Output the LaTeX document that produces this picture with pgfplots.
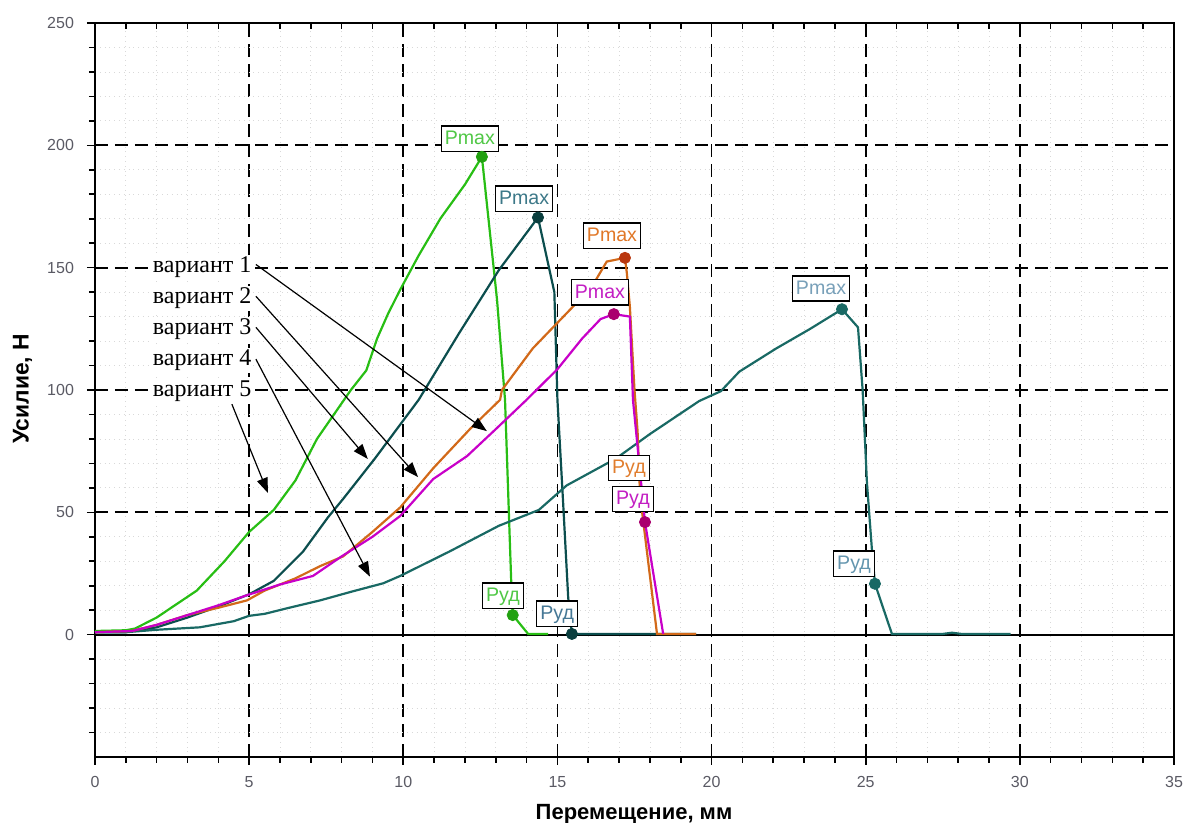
\documentclass[border=0pt]{standalone}
\usepackage{pgfplots}
\pgfplotsset{compat=1.18}
\usepackage{fontspec}
\setmainfont{Liberation Serif}
\newfontfamily\arial{Liberation Sans}
\usetikzlibrary{arrows.meta}
\definecolor{cgreen}{RGB}{40,190,20}
\definecolor{cteal}{RGB}{12,78,78}
\definecolor{cteal2}{RGB}{25,105,100}
\definecolor{corange}{RGB}{210,105,25}
\definecolor{cmag}{RGB}{200,0,200}
\definecolor{tickgray}{RGB}{90,90,100}
\begin{document}
\begin{tikzpicture}
\useasboundingbox (-47.5pt,-33pt) rectangle (544pt,378.5pt);
\tikzset{lbl/.style={draw=black, line width=0.7pt, fill=white, font=\arial\fontsize{9.8}{11}\selectfont, inner xsep=1.8pt, inner ysep=2pt, text height=7.2pt, text depth=1.4pt},
 var/.style={fill=white, inner sep=1pt, anchor=west, font=\fontsize{12}{14}\selectfont},
 arr/.style={line width=0.6pt, -{Triangle[length=7.5pt,width=5.5pt]}}}
\begin{axis}[at={(0,0)}, anchor=south west, scale only axis,
  width=539.5pt, height=367pt,
  xmin=0, xmax=35, ymin=-50, ymax=250,
  xtick={0,5,...,35}, ytick={0,50,...,250},
  minor xtick={1,2,3,4,6,7,8,9,11,12,13,14,16,17,18,19,21,22,23,24,26,27,28,29,31,32,33,34},
  minor ytick={-40,-30,-20,-10,10,20,30,40,60,70,80,90,110,120,130,140,160,170,180,190,210,220,230,240},
  grid=both,
  major grid style={black, line width=0.9pt, dash pattern=on 6.5pt off 3.5pt},
  minor grid style={gray!30, dotted, line width=0.4pt},
  axis line style={line width=1pt},
  tick align=outside, xtick pos=bottom, ytick pos=left,
  major tick length=4pt, minor tick length=3pt,
  tick style={black, line width=0.8pt},
  /pgf/number format/assume math mode=true,
  ticklabel style={font=\arial\fontsize{8}{9}\selectfont, text=tickgray},
  yticklabel style={xshift=-3pt},
  xticklabel style={yshift=-2pt},
]
\draw[line width=1pt] (axis cs:0,0) -- (axis cs:35,0);
% variant 5 (green)
\addplot[cgreen, line width=1.1pt] coordinates {
(0,1.5) (1,1.8) (1.3,2.5) (2,7) (3.3,18) (4.2,30) (5,42) (5.8,51) (6.5,63) (7.2,80) (8.3,100) (8.8,108) (9.15,121) (9.5,131) (9.9,141) (10.5,155) (11.2,170) (12.0,184) (12.55,195.3) (13.04,137) (13.3,96) (13.5,22) (13.55,8) (14.05,0.3) (14.7,0.3)};
% dark teal
\addplot[cteal, line width=1.1pt] coordinates {
(0,1) (1,1) (2,3) (3,7) (4,11.5) (5,16.5) (5.8,22) (6.75,34) (7.56,48) (8.05,55.5) (9.08,72) (10.5,96) (11.8,123) (13.1,149) (14.37,170.5) (14.9,140) (15.0,96) (15.18,55) (15.35,15) (15.47,0.3) (19.5,0.3)};
% long teal
\addplot[cteal2, line width=1.1pt] coordinates {
(0,1) (1,1) (2,2) (3.4,3) (4.5,5.5) (5,7.7) (5.5,8.5) (6.3,11) (7.3,14) (8.3,17.5) (9.35,21) (9.9,24) (11.5,34) (13.1,44.5) (14.4,51) (15.3,61) (16.9,72) (18,82) (19.6,95.5) (20.3,99.5) (20.9,107.5) (22.1,117) (23.2,125) (24.23,133) (24.75,125.6) (24.9,100) (25.04,62) (25.2,35) (25.3,20.8) (25.85,0.3) (27.5,0.3) (27.8,0.8) (28.1,0.3) (29.7,0.3)};
% orange
\addplot[corange, line width=1.1pt] coordinates {
(0,1) (1.2,1.5) (2,4) (3,8) (4,11) (4.93,14) (5.5,18) (6.5,23) (7.3,28) (8.05,32) (9,42) (9.9,52) (10.97,68) (12.16,84) (13.14,96) (13.2,100) (14.2,117) (15.5,134) (16.2,144) (16.6,152.5) (17.19,154) (17.25,148) (17.35,134) (17.5,100) (17.6,83) (17.68,57) (18.23,0.3) (19.5,0.3)};
% magenta
\addplot[cmag, line width=1.1pt] coordinates {
(0,1) (1.2,1.5) (2,4) (3,8) (4,12) (4.9,16) (6,20.5) (7.07,24) (8,32) (9,40) (9.9,48.5) (10.97,63.6) (12.07,73) (13.0,84) (14.0,96) (15.0,108.5) (15.8,121) (16.4,129) (16.83,131) (17.35,130) (17.45,96) (17.84,46) (18.43,0.3)};
% markers
\addplot[only marks, mark=*, mark size=2.8pt, color=cgreen!85!black] coordinates {(12.55,195.3) (13.55,8)};
\addplot[only marks, mark=*, mark size=2.8pt, color=cteal!80!black] coordinates {(14.37,170.5) (15.47,0.3)};
\addplot[only marks, mark=*, mark size=2.8pt, color=cteal2] coordinates {(24.23,133) (25.3,20.8)};
\addplot[only marks, mark=*, mark size=2.8pt, color={rgb,255:red,185;green,55;blue,15}] coordinates {(17.19,154)};
\addplot[only marks, mark=*, mark size=2.8pt, color={rgb,255:red,170;green,0;blue,110}] coordinates {(16.83,131) (17.84,46)};
% labels
\node[lbl, text={rgb,255:red,80;green,200;blue,70}] at (axis cs:12.16,202.7) {Pmax};
\node[lbl, text={rgb,255:red,60;green,120;blue,136}] at (axis cs:13.92,178.2) {Pmax};
\node[lbl, text={rgb,255:red,225;green,120;blue,40}] at (axis cs:16.77,163.1) {Pmax};
\node[lbl, text={rgb,255:red,195;green,30;blue,195}] at (axis cs:16.38,139.9) {Pmax};
\node[lbl, text={rgb,255:red,120;green,160;blue,185}] at (axis cs:23.55,141.5) {Pmax};
\node[lbl, text={rgb,255:red,80;green,200;blue,70}] at (axis cs:13.23,15.9) {Руд};
\node[lbl, text={rgb,255:red,70;green,120;blue,150}] at (axis cs:14.99,8.6) {Руд};
\node[lbl, text={rgb,255:red,225;green,125;blue,45}] at (axis cs:17.32,68.1) {Руд};
\node[lbl, text={rgb,255:red,195;green,30;blue,195}] at (axis cs:17.45,55.5) {Руд};
\node[lbl, text={rgb,255:red,100;green,150;blue,175}] at (axis cs:24.62,29.0) {Руд};
% variant captions
\node[var] at (axis cs:1.8,150.1) {вариант 1};
\node[var] at (axis cs:1.8,137.4) {вариант 2};
\node[var] at (axis cs:1.8,124.8) {вариант 3};
\node[var] at (axis cs:1.8,112.2) {вариант 4};
\node[var] at (axis cs:1.8,99.5) {вариант 5};
\draw[arr] (axis cs:5.22,151.3) -- (axis cs:12.71,83.2);
\draw[arr] (axis cs:5.22,138.3) -- (axis cs:10.48,64.4);
\draw[arr] (axis cs:5.22,125.6) -- (axis cs:8.85,71.8);
\draw[arr] (axis cs:5.22,112.6) -- (axis cs:8.92,23.7);
\draw[arr] (axis cs:4.44,94.2) -- (axis cs:5.61,57.9);
\end{axis}
\begin{axis}[at={(0,0)}, anchor=south west, scale only axis,
  width=539.5pt, height=367pt,
  xmin=0, xmax=35, ymin=-50, ymax=250,
  hide y axis, axis x line*=top, axis line style={line width=1pt},
  xtick={0,5,...,35}, minor x tick num=4, xticklabels={},
  tick align=inside, major tick length=3pt, minor tick length=3pt,
  tick style={black, line width=0.8pt}]
\end{axis}
\node[rotate=90, font=\arial\bfseries\fontsize{11.4}{13}\selectfont] at (-36.25pt,184pt) {Усилие, Н};
\node[font=\arial\bfseries\fontsize{11}{13}\selectfont] at (269.5pt,-28.5pt) {Перемещение, мм};
\end{tikzpicture}
\end{document}
